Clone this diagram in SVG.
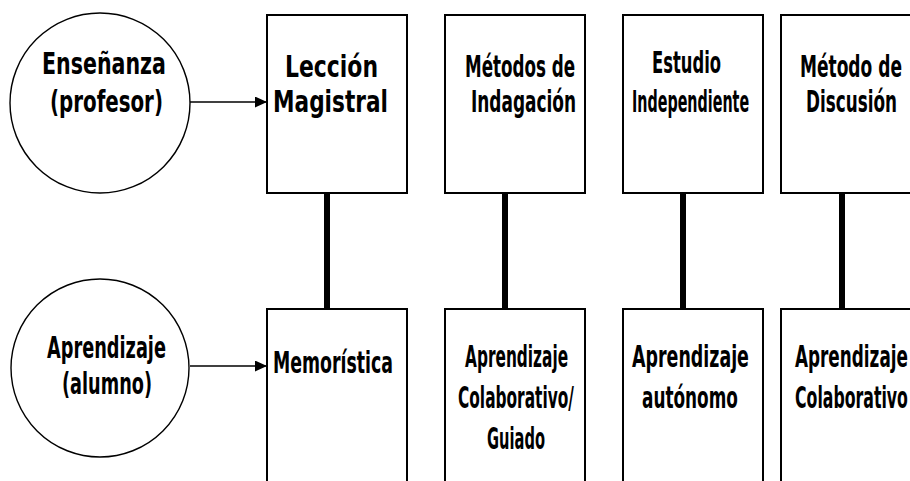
<svg xmlns="http://www.w3.org/2000/svg" width="910" height="481" viewBox="0 0 910 481">
<style>
.bg{fill:#fff}
.box{fill:#fff;stroke:#000;stroke-width:2}
.circ{fill:#fff;stroke:#000;stroke-width:1.4}
.t{font-family:"DejaVu Sans","Liberation Sans",sans-serif;font-weight:bold;font-size:30px;fill:#000}
.arrow{stroke:#000;stroke-width:1.5;fill:none}
.stem{stroke:#000;stroke-width:6;fill:none}
</style>
<defs>
<marker id="ah" markerWidth="12" markerHeight="11" refX="12" refY="5.5" orient="auto" markerUnits="userSpaceOnUse">
<path d="M0,0 L12,5.5 L0,11 Z" fill="#000"/>
</marker>
</defs>
<rect class="bg" x="0" y="0" width="910" height="481"/>
<g id="connectors">
<line class="arrow" x1="190" y1="102" x2="267" y2="102" marker-end="url(#ah)"/>
<line class="arrow" x1="190" y1="366" x2="267" y2="366" marker-end="url(#ah)"/>
<line class="stem" x1="327" y1="193" x2="327" y2="309"/>
<line class="stem" x1="505" y1="193" x2="505" y2="309"/>
<line class="stem" x1="683" y1="193" x2="683" y2="309"/>
<line class="stem" x1="842" y1="193" x2="842" y2="309"/>
</g>
<g id="ensenanza">
<circle class="circ" cx="100" cy="103" r="90"/>
<text class="t" transform="translate(42,74) scale(0.686,1)" textLength="180.7" lengthAdjust="spacingAndGlyphs">Enseñanza</text>
<text class="t" transform="translate(50,112) scale(0.661,1)" textLength="170.9" lengthAdjust="spacingAndGlyphs">(profesor)</text>
</g>
<g id="aprendizaje">
<circle class="circ" cx="100" cy="368" r="89"/>
<text class="t" transform="translate(47,358) scale(0.591,1)" textLength="201.3" lengthAdjust="spacingAndGlyphs">Aprendizaje</text>
<text class="t" transform="translate(62,394) scale(0.590,1)" textLength="152.6" lengthAdjust="spacingAndGlyphs">(alumno)</text>
</g>
<g id="leccion">
<rect class="box" x="267" y="15" width="140" height="178"/>
<text class="t" transform="translate(285,77) scale(0.731,1)" textLength="127.3" lengthAdjust="spacingAndGlyphs">Lección</text>
<text class="t" transform="translate(273,112) scale(0.721,1)" textLength="159.4" lengthAdjust="spacingAndGlyphs">Magistral</text>
</g>
<g id="indagacion">
<rect class="box" x="445" y="15" width="140" height="178"/>
<text class="t" transform="translate(465,77) scale(0.558,1)" textLength="197.3" lengthAdjust="spacingAndGlyphs">Métodos de</text>
<text class="t" transform="translate(471,112) scale(0.565,1)" textLength="186" lengthAdjust="spacingAndGlyphs">Indagación</text>
</g>
<g id="estudio">
<rect class="box" x="623" y="15" width="140" height="178"/>
<text class="t" transform="translate(652,73) scale(0.546,1)" textLength="126.4" lengthAdjust="spacingAndGlyphs">Estudio</text>
<text class="t" transform="translate(632,112) scale(0.478,1)" textLength="245" lengthAdjust="spacingAndGlyphs">Independiente</text>
</g>
<g id="discusion">
<rect class="box" x="781" y="15" width="140" height="178"/>
<text class="t" transform="translate(800,77) scale(0.568,1)" textLength="179.5" lengthAdjust="spacingAndGlyphs">Método de</text>
<text class="t" transform="translate(806,112) scale(0.561,1)" textLength="162.3" lengthAdjust="spacingAndGlyphs">Discusión</text>
</g>
<g id="memoristica">
<rect class="box" x="267" y="309" width="140" height="200"/>
<text class="t" transform="translate(273,373) scale(0.578,1)" textLength="207.7" lengthAdjust="spacingAndGlyphs">Memorística</text>
</g>
<g id="colaborativo-guiado">
<rect class="box" x="445" y="309" width="140" height="200"/>
<text class="t" transform="translate(465,367) scale(0.512,1)" textLength="201.3" lengthAdjust="spacingAndGlyphs">Aprendizaje</text>
<text class="t" transform="translate(458,408) scale(0.513,1)" textLength="226" lengthAdjust="spacingAndGlyphs">Colaborativo/</text>
<text class="t" transform="translate(487,449) scale(0.489,1)" textLength="118.6" lengthAdjust="spacingAndGlyphs">Guiado</text>
</g>
<g id="autonomo">
<rect class="box" x="623" y="309" width="140" height="200"/>
<text class="t" transform="translate(632,367) scale(0.581,1)" textLength="201.3" lengthAdjust="spacingAndGlyphs">Aprendizaje</text>
<text class="t" transform="translate(642,408) scale(0.563,1)" textLength="170.4" lengthAdjust="spacingAndGlyphs">autónomo</text>
</g>
<g id="colaborativo">
<rect class="box" x="781" y="309" width="140" height="200"/>
<text class="t" transform="translate(795,367) scale(0.561,1)" textLength="201.3" lengthAdjust="spacingAndGlyphs">Aprendizaje</text>
<text class="t" transform="translate(795,408) scale(0.525,1)" textLength="215.1" lengthAdjust="spacingAndGlyphs">Colaborativo</text>
</g>
</svg>
